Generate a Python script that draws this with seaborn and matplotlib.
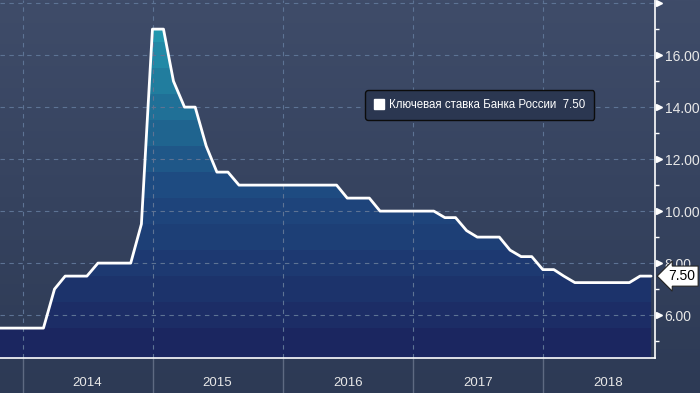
import numpy as np
import pandas as pd
import matplotlib
matplotlib.use("Agg")
import matplotlib.pyplot as plt
import matplotlib.dates as mdates
import matplotlib.transforms as mtransforms
from matplotlib.colors import LinearSegmentedColormap
from matplotlib.lines import Line2D
import seaborn as sns

# month-end key rate of the Bank of Russia, Sep 2013 - Oct 2018
dates = pd.date_range("2013-09-30", "2018-10-31", freq="ME")
rate = [
    5.50, 5.50, 5.50, 5.50,                                                    # 2013 Sep-Dec
    5.50, 5.50, 7.00, 7.50, 7.50, 7.50, 8.00, 8.00, 8.00, 8.00, 9.50, 17.00,    # 2014
    17.00, 15.00, 14.00, 14.00, 12.50, 11.50, 11.50, 11.00, 11.00, 11.00, 11.00, 11.00,  # 2015
    11.00, 11.00, 11.00, 11.00, 11.00, 10.50, 10.50, 10.50, 10.00, 10.00, 10.00, 10.00,  # 2016
    10.00, 10.00, 9.75, 9.75, 9.25, 9.00, 9.00, 9.00, 8.50, 8.25, 8.25, 7.75,   # 2017
    7.75, 7.50, 7.25, 7.25, 7.25, 7.25, 7.25, 7.25, 7.50, 7.50,                 # 2018 Jan-Oct
]
years = [2014, 2015, 2016, 2017, 2018]
y_ticks = [6, 8, 10, 12, 14, 16, 18]
last_value = rate[-1]
series_name = "Ключевая ставка Банка России"

df = pd.DataFrame({"date": dates, "rate": rate})

sns.set_style("dark")
plt.rcParams["font.family"] = ["Liberation Sans", "DejaVu Sans"]

fig = plt.figure(figsize=(7, 3.93), dpi=100)

# background gradient for the whole figure
bg = fig.add_axes([0, 0, 1, 1], zorder=-10)
bg_cmap = LinearSegmentedColormap.from_list("bg", ["#2d3a55", "#3f4c69"])
bg.imshow(np.linspace(0, 1, 256).reshape(-1, 1), cmap=bg_cmap, aspect="auto",
          origin="lower", extent=[0, 1, 0, 1])
bg.set_axis_off()

ax = fig.add_axes([0, 35 / 393, 655 / 700, 358 / 393])
ax.set_facecolor("none")

x0, x1 = pd.Timestamp("2013-10-29"), pd.Timestamp("2018-11-11")
ylo, yhi = 4.35, 18.12
ax.set_xlim(x0, x1)
ax.set_ylim(ylo, yhi)

# area under the line, used as a clip path for the horizontal colour bands
xs = mdates.date2num(df["date"])
area = ax.fill_between(xs, ylo, df["rate"], color="none", lw=0)
fill_cmap = LinearSegmentedColormap.from_list("fill", ["#1b2660", "#1e4a80", "#2296ad"])
edges = np.concatenate([[ylo], np.arange(5.5, 17.6, 1.0), [yhi]])
for lo, hi in zip(edges[:-1], edges[1:]):
    c = fill_cmap(min(1.0, (lo - ylo) / (16.5 - ylo)))
    band = ax.axhspan(lo, hi, color=c, lw=0, zorder=1)
    band.set_clip_path(area.get_paths()[0], ax.transData)

sns.lineplot(data=df, x="date", y="rate", ax=ax, color="white", lw=2, zorder=3)

# grid
for yv in y_ticks:
    ax.axhline(yv, color="#5d7394", lw=0.8, ls=(0, (4, 4)), zorder=2)
for yr in years:
    ax.axvline(pd.Timestamp(f"{yr}-01-01"), color="#5d7394", lw=0.8, ls=(0, (4, 4)), zorder=2)
    ax.axvline(pd.Timestamp(f"{yr}-01-01"), ymin=-35 / 358, ymax=0, color="#5e6a82",
               lw=1, clip_on=False)

# spines
for s in ["top", "left"]:
    ax.spines[s].set_visible(False)
for s in ["right", "bottom"]:
    ax.spines[s].set_visible(True)
    ax.spines[s].set_color("white")
    ax.spines[s].set_linewidth(1.2)

# x ticks: quarterly, year labels mid-year
ax.xaxis.set_major_locator(mdates.MonthLocator(bymonth=[1, 4, 7, 10]))
ax.xaxis.set_major_formatter(plt.NullFormatter())
ax.tick_params(axis="x", which="major", length=4, width=1, color="white", direction="out")
trans_x = mtransforms.blended_transform_factory(ax.transData, ax.transAxes)
for yr in years:
    ax.text(pd.Timestamp(f"{yr}-07-02"), -25 / 358, str(yr), transform=trans_x,
            ha="center", va="center", color="#e8e8e8", fontsize=9.5,
            family=["Liberation Sans Narrow", "Liberation Sans", "DejaVu Sans"])
ax.set_xlabel("")
ax.set_ylabel("")

# right y axis
ax.yaxis.tick_right()
ax.set_yticks(y_ticks)
ax.set_yticklabels([f"{v:.2f}" if v < 18 else "" for v in y_ticks])
ax.set_yticks(np.arange(5, 18, 2), minor=True)
ax.tick_params(axis="y", which="major", length=0, pad=7, labelcolor="#e8e8e8", labelsize=10)
ax.tick_params(axis="y", which="minor", length=3, width=1, color="white", direction="out")
trans_y = mtransforms.blended_transform_factory(ax.transAxes, ax.transData)
ax.plot([1.006] * len(y_ticks), y_ticks, ls="none", marker=">", ms=4.5, color="white",
        transform=trans_y, clip_on=False)

# last value tag
ax.text(1.02, last_value, f"{last_value:.2f}", transform=trans_y, ha="left", va="center",
        fontsize=10, color="black",
        bbox=dict(boxstyle="larrow,pad=0.22", fc="white", ec="#222222", lw=0.8))

# legend
handle = Line2D([], [], ls="none", marker="s", ms=7.5, mfc="white", mec="white")
leg = ax.legend([handle], [f"{series_name}  {last_value:.2f}"], loc="upper left",
                bbox_to_anchor=(0.549, 0.764), fontsize=8.3, frameon=True,
                handlelength=0.8, handletextpad=0.5, borderpad=0.75, fancybox=True)
leg.get_frame().set_facecolor("#2b3751")
leg.get_frame().set_edgecolor("#0c0c0c")
leg.get_frame().set_alpha(1)
for t in leg.get_texts():
    t.set_color("white")

fig.savefig("out.png", dpi=100)
